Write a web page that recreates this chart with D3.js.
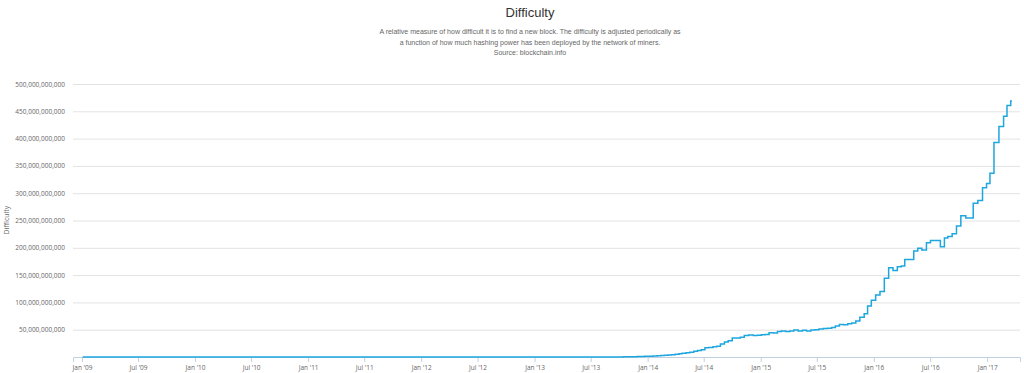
<!DOCTYPE html>
<html>
<head>
<meta charset="utf-8">
<script src="https://cdn.jsdelivr.net/npm/d3@7"></script>
<style>
  body { margin: 0; background: #fff; }
  svg { display: block; }
  .title { font-family: "Liberation Sans", Arial, sans-serif; font-size: 13px; fill: #333; }
  .subtitle { font-family: "Liberation Sans", Arial, sans-serif; font-size: 7px; fill: #666; }
  .axis text { font-family: "Open Sans", sans-serif; font-size: 6.5px; fill: #666; }
</style>
</head>
<body>
<svg id="chart" width="1024" height="373"></svg>
<script>
// difficulty steps
let dates = [
  "2009-01-03", "2009-12-30", "2010-07-16", "2010-10-16", "2010-12-31",
  "2011-03-31", "2011-06-30", "2011-09-30", "2011-12-31", "2012-03-31",
  "2012-06-30", "2012-09-30", "2012-12-31", "2013-03-31", "2013-05-31",
  "2013-06-30", "2013-07-31", "2013-08-31", "2013-09-30", "2013-10-15",
  "2013-10-31", "2013-11-15", "2013-11-29", "2013-12-10", "2013-12-22",
  "2014-01-04", "2014-01-18", "2014-02-01", "2014-02-13", "2014-02-24",
  "2014-03-08", "2014-03-19", "2014-03-31", "2014-04-12", "2014-04-22",
  "2014-05-05", "2014-05-17", "2014-05-30", "2014-06-11", "2014-06-23",
  "2014-07-05", "2014-07-17", "2014-07-31", "2014-08-12", "2014-08-24",
  "2014-09-06", "2014-09-18", "2014-10-01", "2014-10-13", "2014-10-27",
  "2014-11-09", "2014-11-23", "2014-12-08", "2014-12-21", "2015-01-03",
  "2015-01-15", "2015-01-28", "2015-02-11", "2015-02-24", "2015-03-09",
  "2015-03-22", "2015-04-05", "2015-04-18", "2015-05-02", "2015-05-16",
  "2015-05-29", "2015-06-12", "2015-06-25", "2015-07-08", "2015-07-22",
  "2015-08-04", "2015-08-18", "2015-08-30", "2015-09-12", "2015-09-25",
  "2015-10-09", "2015-10-22", "2015-11-04", "2015-11-17", "2015-12-01",
  "2015-12-12", "2015-12-24", "2016-01-07", "2016-01-21", "2016-02-04",
  "2016-02-18", "2016-03-03", "2016-03-17", "2016-03-30", "2016-04-10",
  "2016-05-09", "2016-05-22", "2016-06-04", "2016-06-19", "2016-07-02",
  "2016-07-17", "2016-08-03", "2016-08-16", "2016-08-27", "2016-09-10",
  "2016-09-24", "2016-10-08", "2016-10-24", "2016-11-17", "2016-12-02",
  "2016-12-17", "2016-12-30", "2017-01-10", "2017-01-23", "2017-02-08",
  "2017-02-23", "2017-03-06", "2017-03-18", "2017-03-22"
];
let difficulty = [
  1, 1.18, 45.4, 1379, 14484,
  68978, 1564057, 1755425, 1159929, 1376302,
  1726566, 3078258, 3275464, 7673000, 11187257,
  19339258, 31256961, 65750060, 148819200, 267731249,
  390928788, 510929738, 707408283, 908350862, 1180923195,
  1418481395, 1789546951, 2193847870, 2621404453, 3129573175,
  3815723799, 4250217920, 5006919541, 6119726089, 6978842650,
  8000872136, 8853416309, 10455720138, 11756551917, 13462580115,
  16818461371, 17336316979, 18736441558, 19729645940, 23844670039,
  27428630902, 29829733124, 34661425924, 35002482026, 35985640265,
  39603666252, 40300030238, 39457671307, 40007470271, 40640955016,
  41272873894, 44455415962, 43971662056, 46684376316, 47427554950,
  46717549645, 47610564513, 49402014931, 47589591153, 48807487245,
  47643398018, 49446390688, 49692386355, 51076366303, 52278304845,
  52699842409, 54256630328, 56957648455, 59335351234, 59005302818,
  60813224039, 62253982450, 65848255180, 72722780643, 79102380900,
  93448670796, 103880340815, 113354299801, 120033340651, 144116447847,
  163491654909, 158427203767, 165496835118, 166851513283, 178678307671,
  194254820283, 199312067531, 196061423939, 209453158595, 213398925331,
  213492501108, 201893210853, 218000000000, 220755908330, 225832872179,
  240000000000, 258500000000, 254620187304, 281800917193, 286765766821,
  310153855703, 317688400354, 336729644047, 392963262344, 422170566883,
  440779902287, 460769358091, 469000000000, 469000000000
];
let yTicks = [50e9, 100e9, 150e9, 200e9, 250e9, 300e9, 350e9, 400e9, 450e9, 500e9];
let subtitleLines = [
  "A relative measure of how difficult it is to find a new block. The difficulty is adjusted periodically as",
  "a function of how much hashing power has been deployed by the network of miners.",
  "Source: blockchain.info"
];

let parse = d3.timeParse("%Y-%m-%d");
let data = dates.map(function (d, i) {
  return { date: parse(d), value: difficulty[i] };
});

let svg = d3.select("#chart");
let plotLeft = 73, plotRight = 1020, plotTop = 84, plotBottom = 357;

let x = d3.scaleTime()
  .domain([d3.timeDay.offset(data[0].date, -31), d3.timeDay.offset(data[data.length - 1].date, 26)])
  .range([plotLeft, plotRight]);
let y = d3.scaleLinear().domain([0, 500e9]).range([plotBottom, plotTop]);

// title
svg.append("text").attr("class", "title")
  .attr("x", 530).attr("y", 17).attr("text-anchor", "middle")
  .text("Difficulty");
svg.append("g").selectAll("text").data(subtitleLines).join("text")
  .attr("class", "subtitle")
  .attr("x", 530)
  .attr("y", function (d, i) { return 34 + 10.5 * i; })
  .attr("text-anchor", "middle")
  .text(function (d) { return d; });

// grid + y labels
let yAxis = svg.append("g").attr("class", "axis y")
  .attr("transform", "translate(" + plotLeft + ",0)")
  .call(d3.axisLeft(y).tickValues(yTicks).tickSize(-(plotRight - plotLeft)).tickFormat(d3.format(",")).tickPadding(8));
yAxis.select(".domain").remove();
yAxis.selectAll(".tick line").attr("stroke", "#e3e3e3");

svg.append("text").attr("class", "axis")
  .attr("transform", "translate(9,220) rotate(-90)")
  .attr("text-anchor", "middle")
  .style("font-family", "Open Sans, sans-serif").style("font-size", "7px").style("fill", "#666")
  .text("Difficulty");

// x axis
let xTicks = d3.timeMonth.every(6).range(parse("2009-01-01"), parse("2017-01-02"));
let xAxis = svg.append("g").attr("class", "axis x")
  .attr("transform", "translate(0," + plotBottom + ")")
  .call(d3.axisBottom(x).tickValues(xTicks).tickSize(5).tickPadding(3).tickFormat(d3.timeFormat("%b '%y")));
xAxis.select(".domain").attr("stroke", "#c0d0e0");
xAxis.selectAll(".tick line").attr("stroke", "#c0d0e0");

// line
let line = d3.line()
  .x(function (d) { return x(d.date); })
  .y(function (d) { return y(d.value); })
  .curve(d3.curveStepAfter);
svg.append("path").datum(data)
  .attr("fill", "none")
  .attr("stroke", "#1ea6df")
  .attr("stroke-width", 1.5)
  .attr("d", line);
</script>
</body>
</html>
